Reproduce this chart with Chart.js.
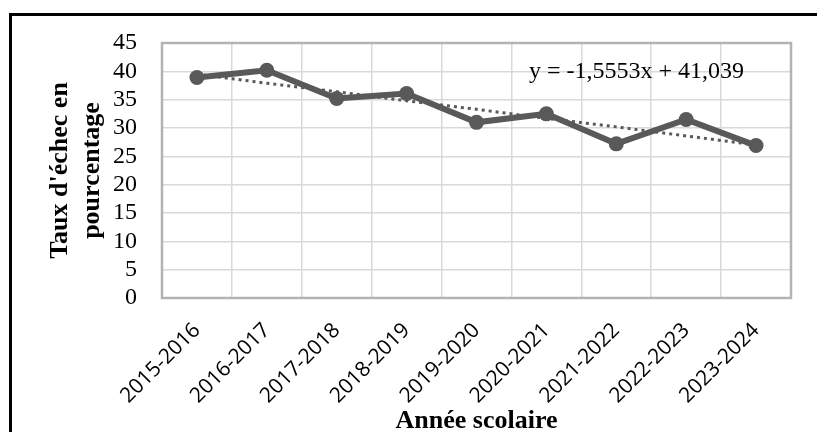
<!DOCTYPE html>
<html>
<head>
<meta charset="utf-8">
<script src="https://cdn.jsdelivr.net/npm/chart.js@4"></script>
<style>
  html, body { margin: 0; padding: 0; background: #fff; overflow: hidden; }
  #wrap { position: relative; width: 817px; height: 432px; }
</style>
</head>
<body>
<div id="wrap"><canvas id="chart" width="817" height="432"></canvas></div>
<script>
const SERIF = "'Liberation Serif', 'Times New Roman', serif";
const SANS = "'Open Sans', 'Liberation Sans', sans-serif";
const GRIS = '#595959';

// Données
const annees = ['2015-2016', '2016-2017', '2017-2018', '2018-2019', '2019-2020',
                '2020-2021', '2021-2022', '2022-2023', '2023-2024'];
const tauxEchec = [38.9, 40.2, 35.2, 36.1, 31.0, 32.5, 27.2, 31.5, 26.9];
const tendance = [39.5, 37.9, 36.4, 34.8, 33.3, 31.7, 30.2, 28.6, 27.0];
const graduationsY = [0, 5, 10, 15, 20, 25, 30, 35, 40, 45];
const equation = 'y = -1,5553x + 41,039';

// Cadre noir, bordure de la zone de tracé et équation de tendance
Chart.register({
  id: 'cadre',
  beforeDraw(chart) {
    const { ctx, width, height } = chart;
    ctx.save();
    ctx.fillStyle = '#fff';
    ctx.fillRect(0, 0, width, height);
    ctx.fillStyle = '#000';
    ctx.fillRect(9, 13, width - 9, 3);
    ctx.fillRect(9, 13, 3, height - 13);
    ctx.restore();
  },
  beforeDatasetsDraw(chart) {
    const { ctx, chartArea: a } = chart;
    ctx.save();
    ctx.strokeStyle = '#b3b3b3';
    ctx.lineWidth = 2.5;
    ctx.strokeRect(a.left, a.top, a.right - a.left, a.bottom - a.top);
    ctx.restore();
  },
  afterDatasetsDraw(chart) {
    const { ctx, scales: { x, y } } = chart;
    ctx.save();
    ctx.font = `24px ${SERIF}`;
    ctx.fillStyle = '#000';
    ctx.textAlign = 'left';
    ctx.textBaseline = 'alphabetic';
    ctx.fillText(equation, x.getPixelForValue(4.75), y.getPixelForValue(38.8));
    ctx.restore();
  }
});

new Chart(document.getElementById('chart'), {
  type: 'line',
  data: {
    labels: annees,
    datasets: [
      {
        data: tauxEchec, order: 1,
        borderColor: GRIS, backgroundColor: GRIS, borderWidth: 6,
        pointRadius: 7.5, pointBackgroundColor: GRIS, pointBorderWidth: 0,
        tension: 0
      },
      {
        data: tendance, order: 2,
        borderColor: GRIS, borderWidth: 3, borderDash: [3, 4],
        pointRadius: 0, tension: 0
      }
    ]
  },
  options: {
    responsive: false,
    animation: false,
    layout: { padding: { top: 43, right: 26, left: 0, bottom: 0 } },
    plugins: { legend: { display: false }, tooltip: { enabled: false } },
    scales: {
      x: {
        offset: true,
        grid: { offset: true, color: '#d9d9d9', lineWidth: 1.5, drawTicks: false },
        border: { display: false },
        ticks: {
          autoSkip: false, minRotation: 45, maxRotation: 45, padding: 20,
          color: '#000', font: { family: SANS, size: 21 }
        },
        title: {
          display: true, text: 'Année scolaire', color: '#000',
          font: { family: SERIF, size: 26, weight: 'bold', lineHeight: 0.85 },
          padding: { top: 0, bottom: 0 }
        },
        afterFit(s) { s.height = 134; }
      },
      y: {
        min: 0, max: 45,
        afterBuildTicks(s) { s.ticks = graduationsY.map(v => ({ value: v })); },
        grid: { color: '#d9d9d9', lineWidth: 1.5, drawTicks: false },
        border: { display: false },
        ticks: { autoSkip: false, padding: 25, color: '#000', font: { family: SERIF, size: 24, lineHeight: 1 } },
        title: {
          display: true, text: ["Taux d'échec en", 'pourcentage'], color: '#000',
          font: { family: SERIF, size: 26, weight: 'bold', lineHeight: 1.2 },
          padding: { top: 45, bottom: 0 }
        },
        afterFit(s) { s.width = 162; }
      }
    }
  }
});
</script>
</body>
</html>
